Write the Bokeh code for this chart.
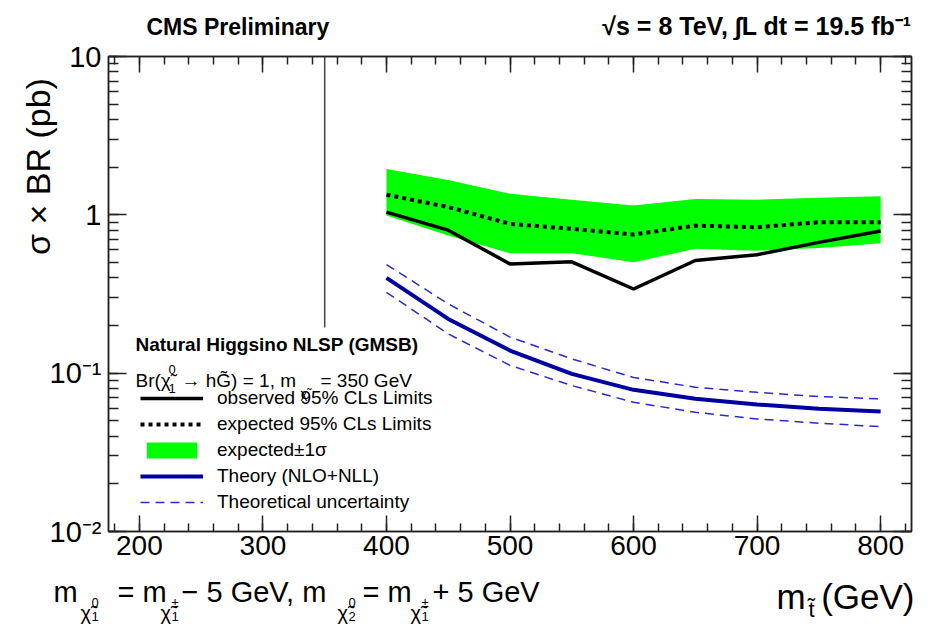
import math
from bokeh.plotting import figure
from bokeh.layouts import column
from bokeh.models import (Range1d, LinearAxis, LogAxis, LogTicker, SingleIntervalTicker,
                          Label, Legend, LegendItem, CustomJSTickFormatter)
from bokeh.embed import file_html
from bokeh.resources import INLINE

# ---------------- data ----------------
stop_mass = [400, 450, 500, 550, 600, 650, 700, 750, 800]
observed = [1.04, 0.80, 0.49, 0.505, 0.34, 0.515, 0.56, 0.67, 0.79]
expected = [1.34, 1.12, 0.877, 0.816, 0.751, 0.855, 0.835, 0.898, 0.898]
expected_up = [1.95, 1.66, 1.36, 1.245, 1.145, 1.26, 1.245, 1.28, 1.31]
expected_down = [0.99, 0.74, 0.573, 0.573, 0.502, 0.61, 0.594, 0.618, 0.662]
theory = [0.40, 0.220, 0.139, 0.099, 0.0785, 0.0689, 0.0634, 0.0595, 0.0572]
theory_up = [0.485, 0.274, 0.169, 0.123, 0.094, 0.0815, 0.0757, 0.0711, 0.0689]
theory_down = [0.324, 0.177, 0.112, 0.0835, 0.0655, 0.0566, 0.0514, 0.0483, 0.046]
neutralino_mass = 350
x_limits = [175, 825]
y_limits = [0.01, 10]

# ---------------- layout ----------------
W, H = 932, 629
HEAD = 40          # header strip height
FOOT_TOP = 568     # footer strip starts here
FL, FR, FT, FB = 108, 911, 56, 531
FONT = "Liberation Sans"
AX = "#222222"


def strip(height):
    f = figure(width=W, height=height, x_range=Range1d(0, W), y_range=Range1d(0, height),
               x_axis_location=None, y_axis_location=None, output_backend="svg",
               toolbar_location=None, min_border=0, frame_align=False)
    f.xgrid.visible = False
    f.ygrid.visible = False
    f.outline_line_color = None
    f.background_fill_color = "white"
    f.border_fill_color = "white"
    return f


def lab(fig, ox, oy, text, px, py, size, style="normal", align="left", color="black"):
    # py is the wanted baseline (canvas pixels); the text box sits ~0.2 em low
    fig.add_layout(Label(x=px - ox, y=oy - py + 0.2 * size, x_units="screen", y_units="screen",
                         text=text, text_font=FONT, text_font_size=f"{size}px",
                         text_font_style=style, text_align=align, text_baseline="alphabetic",
                         text_color=color))


head = strip(HEAD)
foot = strip(H - FOOT_TOP)

p = figure(width=W, height=FOOT_TOP - HEAD, x_range=Range1d(*x_limits),
           y_range=Range1d(*y_limits), y_axis_type="log", output_backend="svg",
           toolbar_location=None, min_border_left=FL, min_border_right=W - FR,
           min_border_top=FT - HEAD, min_border_bottom=FOOT_TOP - FB, frame_align=False)
p.xgrid.visible = False
p.ygrid.visible = False
p.outline_line_color = AX
p.outline_line_width = 1.5
p.background_fill_color = "white"
p.border_fill_color = "white"


def ypx_to_data(py):
    frac = (FB - py) / (FB - FT)
    lo, hi = math.log10(y_limits[0]), math.log10(y_limits[1])
    return 10 ** (lo + frac * (hi - lo))


def style_axis(ax, major, minor, labels=True):
    ax.axis_line_color = AX
    ax.axis_line_width = 1.5
    ax.major_tick_line_color = AX
    ax.minor_tick_line_color = AX
    ax.major_tick_line_width = 1.5
    ax.minor_tick_line_width = 1.5
    ax.major_tick_in = major
    ax.major_tick_out = 0
    ax.minor_tick_in = minor
    ax.minor_tick_out = 0
    ax.major_label_text_font = FONT
    ax.major_label_text_color = "black"
    if not labels:
        ax.formatter = CustomJSTickFormatter(code="return '';")
        ax.major_label_text_font_size = "1px"
        ax.major_label_standoff = 0


ylog = CustomJSTickFormatter(code="""
const e = Math.round(Math.log10(tick));
if (e >= 0) return String(Math.round(Math.pow(10, e)));
const sup = {"-": "\u207b", "0": "\u2070", "1": "\u00b9", "2": "\u00b2", "3": "\u00b3"};
return "10" + String(e).split("").map(c => sup[c]).join("");
""")

xa = p.xaxis[0]
xa.ticker = SingleIntervalTicker(interval=100, num_minor_ticks=5)
style_axis(xa, 16, 8)
xa.major_label_text_font_size = "28px"
xa.major_label_standoff = 4

ya = p.yaxis[0]
ya.ticker = LogTicker(num_minor_ticks=10)
ya.formatter = ylog
style_axis(ya, 18, 10)
ya.major_label_text_font_size = "29px"
ya.major_label_standoff = 7
# ROOT puts the title at the top end of the axis: pad the start with en spaces
ya.axis_label = "\u2002" * 15 + "\u03c3 \u00d7 BR (pb)"
ya.axis_label_text_font = FONT
ya.axis_label_text_font_size = "34px"
ya.axis_label_text_font_style = "normal"
ya.axis_label_text_color = "black"
ya.axis_label_standoff = -10

top = LinearAxis(ticker=SingleIntervalTicker(interval=100, num_minor_ticks=5))
style_axis(top, 16, 8, labels=False)
p.add_layout(top, "above")
right = LogAxis(ticker=LogTicker(num_minor_ticks=10))
style_axis(right, 18, 10, labels=False)
p.add_layout(right, "right")

# ---------------- glyphs ----------------
band = p.varea(x=stop_mass, y1=expected_down, y2=expected_up, fill_color="#00ff00")
exp_r = p.line(stop_mass, expected, line_color="black", line_width=4, line_dash="4 4")
obs_r = p.line(stop_mass, observed, line_color="black", line_width=3.5)
thu_r = p.line(stop_mass, theory_up, line_color="#2a2ac8", line_width=1.5, line_dash="9 6")
p.line(stop_mass, theory_down, line_color="#2a2ac8", line_width=1.5, line_dash="9 6")
th_r = p.line(stop_mass, theory, line_color="#0000a0", line_width=4)
p.segment(x0=[neutralino_mass], x1=[neutralino_mass], y0=[ypx_to_data(327)], y1=[y_limits[1]],
          line_color="#444444", line_width=1.5)

# ---------------- legend ----------------
legend = Legend(items=[
    LegendItem(label="observed 95% CLs Limits", renderers=[obs_r]),
    LegendItem(label="expected 95% CLs Limits", renderers=[exp_r]),
    LegendItem(label="expected\u00b11\u03c3", renderers=[band]),
    LegendItem(label="Theory (NLO+NLL)", renderers=[th_r]),
    LegendItem(label="Theoretical uncertainty", renderers=[thu_r]),
], location=(140 - FL, 18))
legend.label_text_font = FONT
legend.label_text_font_size = "19px"
legend.label_text_color = "black"
legend.glyph_width = 63
legend.glyph_height = 20
legend.label_height = 20
legend.label_standoff = 14
legend.spacing = 4
legend.padding = 0
legend.margin = 0
legend.border_line_alpha = 0
legend.background_fill_alpha = 0
p.add_layout(legend)

# ---------------- text ----------------
# header
lab(head, 0, HEAD, "CMS Preliminary", 146, 31, 23, "bold")
lab(head, 0, HEAD, "\u221as = 8 TeV, \u222bL dt = 19.5 fb\u207b\u00b9", 911, 30, 25, "bold",
    align="right")

# footer: x title
FO = (0, H)
lab(foot, *FO, "m", 776, 603, 35)
lab(foot, *FO, "t\u0303", 808, 613, 22)
lab(foot, *FO, "(GeV)", 914, 603, 35, align="right")


def chi(fig, o, px, py, top_txt, idx, size):
    lab(fig, *o, "\u03c7\u0303", px, py, size)
    lab(fig, *o, top_txt, px + 0.55 * size, py - 0.55 * size, int(size * 0.65))
    lab(fig, *o, idx, px + 0.55 * size, py + 0.12 * size, int(size * 0.65))


# footer: mass relation
lab(foot, *FO, "m", 53, 597, 29)
chi(foot, FO, 80, 616, "0", "1", 20)
lab(foot, *FO, "= m", 117, 597, 29)
chi(foot, FO, 160, 616, "\u00b1", "1", 20)
lab(foot, *FO, "\u2212 5 GeV, m", 181, 597, 29)
chi(foot, FO, 337, 616, "0", "2", 20)
lab(foot, *FO, "= m", 362, 597, 29)
chi(foot, FO, 410, 616, "\u00b1", "1", 20)
lab(foot, *FO, "+ 5 GeV", 432, 597, 29)

# legend header inside the frame
MO = (FL, FB)
lab(p, *MO, "Natural Higgsino NLSP (GMSB)", 135, 348, 19, "bold")
lab(p, *MO, "Br(\u03c7\u0303", 135, 384, 19)
lab(p, *MO, "0", 168, 372, 13)
lab(p, *MO, "1", 168, 391, 13)
lab(p, *MO, "\u2192 hG\u0303) = 1, m", 181, 384, 19)
lab(p, *MO, "\u03c7\u0303", 300, 396, 13)
lab(p, *MO, "= 350 GeV", 320, 384, 19)

layout = column(head, p, foot, spacing=0)
open("out.html", "w").write(file_html(layout, INLINE))
